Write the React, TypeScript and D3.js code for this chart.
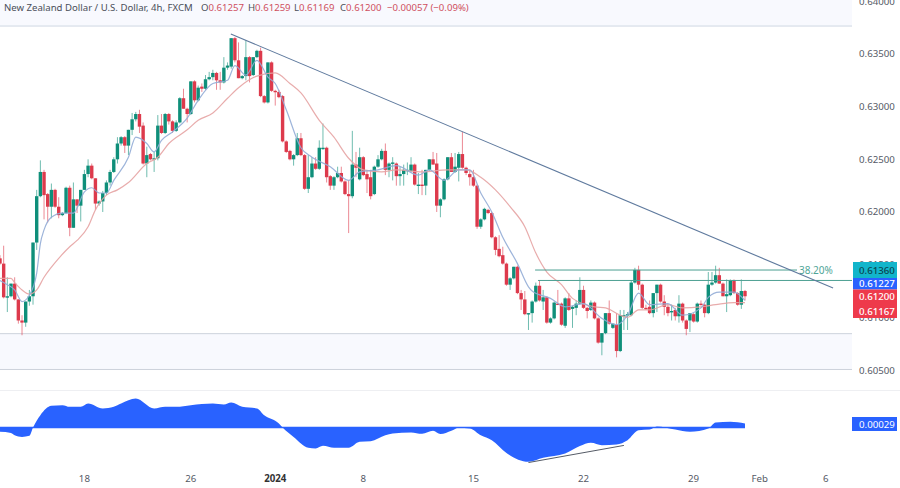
import React from "react";
import * as d3 from "d3";

// Candle values, in units of 0.0001
const opens = [
6156,6151,6119,6120,6132,6117,6097,6095,6115,6120,
6171,6215,6238,6217,6205,6221,6205,6197,6199,6223,
6185,6212,6206,6221,6236,6244,6232,6208,6210,6218,
6228,6238,6250,6265,6271,6263,6278,6288,6293,6282,
6246,6255,6250,6251,6282,6275,6293,6286,6277,6285,
6308,6298,6293,6324,6306,6319,6317,6326,6328,6332,
6325,6323,6337,6338,6365,6344,6327,6329,6347,6330,
6347,6353,6310,6304,6342,6315,6314,6310,6267,6258,
6250,6254,6270,6254,6222,6233,6246,6241,6260,6261,
6234,6225,6233,6237,6229,6217,6215,6245,6231,6252,
6236,6233,6217,6243,6250,6258,6240,6246,6246,6234,
6236,6239,6239,6245,6225,6226,6225,6240,6250,6246,
6206,6212,6231,6252,6238,6242,6255,6242,6236,6233,
6225,6186,6193,6202,6199,6176,6165,6159,6151,6131,
6137,6148,6123,6117,6103,6104,6115,6130,6115,6119,
6095,6099,6113,6113,6092,6118,6108,6109,6113,6126,
6109,6107,6114,6099,6076,6085,6104,6090,6093,6068,
6101,6102,6102,6133,6145,6131,6109,6110,6104,6123,
6131,6115,6110,6105,6107,6101,6113,6097,6097,6103,
6096,6113,6112,6104,6131,6133,6140,6132,6120,6121,
6135,6123,6112,6125];
const highs = [
6159,6168,6138,6132,6138,6117,6102,6115,6126,6171,
6221,6249,6240,6218,6227,6222,6214,6200,6224,6225,
6228,6212,6221,6240,6250,6246,6232,6211,6220,6230,
6240,6252,6271,6272,6272,6278,6294,6295,6297,6285,
6262,6256,6257,6292,6293,6294,6294,6287,6287,6309,
6317,6299,6324,6325,6320,6322,6330,6333,6335,6333,
6333,6347,6342,6365,6366,6361,6330,6363,6348,6347,
6354,6356,6311,6342,6343,6316,6316,6311,6268,6259,
6255,6275,6275,6255,6254,6252,6252,6268,6284,6262,
6235,6234,6243,6243,6230,6230,6277,6257,6261,6253,
6240,6240,6244,6254,6260,6265,6247,6252,6247,6243,
6245,6247,6252,6246,6237,6240,6240,6250,6257,6256,
6213,6232,6252,6256,6256,6257,6276,6243,6240,6240,
6226,6194,6204,6203,6200,6177,6178,6167,6152,6138,
6148,6149,6126,6125,6104,6116,6133,6135,6126,6120,
6100,6115,6126,6114,6119,6123,6111,6116,6138,6130,
6110,6116,6115,6100,6085,6104,6116,6094,6104,6107,
6107,6105,6135,6147,6149,6132,6112,6116,6123,6131,
6132,6121,6112,6112,6109,6121,6114,6098,6104,6104,
6114,6116,6113,6143,6143,6149,6147,6133,6136,6136,
6136,6124,6136,6126];
const lows = [
6150,6118,6105,6119,6116,6094,6083,6091,6111,6112,
6164,6214,6193,6190,6194,6204,6194,6196,6198,6177,
6185,6199,6191,6221,6233,6231,6202,6206,6200,6216,
6225,6237,6246,6263,6256,6254,6273,6286,6275,6245,
6233,6249,6238,6249,6274,6274,6283,6275,6276,6284,
6298,6285,6292,6304,6305,6314,6316,6325,6325,6316,
6316,6322,6335,6336,6342,6327,6326,6325,6323,6329,
6346,6309,6303,6303,6314,6301,6308,6266,6256,6249,
6244,6253,6253,6221,6218,6232,6240,6240,6259,6228,
6221,6221,6232,6228,6216,6180,6213,6233,6230,6234,
6218,6212,6216,6242,6249,6235,6233,6230,6225,6225,
6225,6235,6238,6225,6217,6216,6216,6239,6245,6200,
6195,6211,6230,6238,6237,6229,6241,6235,6225,6224,
6184,6184,6192,6198,6175,6159,6157,6150,6130,6126,
6136,6122,6107,6102,6088,6095,6114,6115,6107,6094,
6094,6098,6112,6092,6090,6106,6090,6102,6112,6108,
6099,6106,6098,6075,6064,6084,6093,6089,6062,6067,
6088,6088,6101,6132,6126,6108,6107,6103,6100,6105,
6114,6102,6101,6097,6097,6095,6095,6083,6086,6095,
6095,6111,6100,6103,6130,6132,6132,6120,6105,6120,
6122,6111,6108,6116];
const closes = [
6151,6119,6120,6132,6117,6097,6095,6115,6120,6171,
6215,6238,6216,6205,6221,6205,6197,6199,6223,6185,
6212,6206,6221,6236,6244,6232,6208,6210,6218,6228,
6238,6250,6265,6271,6263,6278,6288,6293,6281,6246,
6254,6250,6251,6282,6275,6293,6286,6277,6285,6308,
6298,6293,6324,6306,6318,6317,6326,6328,6332,6325,
6323,6337,6339,6365,6344,6327,6329,6347,6329,6347,
6353,6310,6304,6342,6315,6314,6309,6267,6257,6250,
6254,6270,6254,6222,6233,6246,6241,6261,6261,6233,
6225,6233,6237,6229,6217,6215,6245,6242,6252,6235,
6231,6215,6243,6250,6258,6240,6246,6247,6234,6236,
6240,6240,6245,6226,6226,6225,6240,6250,6245,6206,
6212,6231,6252,6238,6243,6255,6242,6237,6233,6225,
6186,6193,6203,6199,6176,6164,6158,6151,6131,6137,
6148,6123,6117,6103,6104,6115,6130,6116,6119,6095,
6099,6114,6112,6093,6118,6107,6110,6113,6126,6109,
6106,6114,6099,6076,6085,6104,6094,6094,6068,6102,
6102,6103,6133,6145,6131,6109,6108,6104,6123,6131,
6115,6110,6104,6106,6101,6113,6097,6089,6104,6096,
6113,6112,6104,6131,6133,6140,6132,6120,6122,6135,
6123,6112,6125,6120];

// Moving averages: bar index, value
const slowBars = [0,3,4,6,8,10,12,16,19,21,24,26,29,32,35,40,43,46,51,54,58,62,65,70,75,79,82,87,91,95,99,104,108,115,122,127,131,135,139,143,146,149,153,156,162,165,169,171,174,177,182,186,191,195,200,203];
const slowValues = [6137,6137,6133,6126,6122,6126,6138,6156,6167,6173,6186,6202,6216,6221,6228,6246,6252,6265,6278,6287,6294,6308,6318,6329,6332,6322,6313,6287,6271,6251,6240,6238,6240,6238,6240,6240,6233,6221,6205,6186,6161,6143,6131,6118,6110,6109,6102,6100,6107,6107,6112,6109,6110,6112,6114,6114];
const fastBars = [0,2,4,6,8,10,11,12,14,17,20,23,25,27,29,31,35,37,40,42,44,47,51,54,58,62,64,67,70,73,75,78,82,85,90,95,98,103,108,114,117,121,125,128,131,134,137,141,144,145,150,154,159,164,168,171,174,177,182,186,191,193,196,200,203];
const fastValues = [6135,6131,6126,6115,6121,6142,6170,6183,6195,6199,6199,6219,6223,6218,6218,6230,6252,6271,6265,6257,6268,6276,6289,6306,6322,6325,6339,6330,6344,6328,6322,6297,6261,6252,6243,6230,6238,6240,6244,6235,6240,6230,6240,6240,6218,6200,6176,6151,6129,6125,6118,6110,6113,6099,6093,6102,6123,6112,6113,6102,6109,6119,6124,6124,6116];

// Lower oscillator: bar index, value in units of 0.00001
const oscBars = [0,3,4,6,8,9,11,14,17,19,22,24,28,31,33,37,42,45,48,52,58,61,63,66,70,72,76,77,80,84,86,88,91,95,98,101,105,107,112,115,118,120,123,125,128,131,134,138,144,148,154,158,161,164,168,171,174,177,179,184,188,193,195,199,203];
const oscValues = [-31,-39,-56,-68,-60,0,89,157,162,150,150,174,138,150,174,210,138,150,150,162,174,167,181,150,138,89,29,0,-68,-147,-152,-133,-147,-147,-104,-99,-56,-43,-36,-46,-24,-48,-24,-2,-7,-56,-92,-184,-249,-220,-189,-135,-111,-128,-123,-92,-20,-15,7,-15,-31,-7,36,41,29];

// Axis content
const priceTicks = [0.64, 0.635, 0.63, 0.625, 0.62, 0.615, 0.61, 0.605];
const dateTicks: [number, string, boolean][] = [
  [23, "18", false], [52, "26", false], [75, "2024", true], [99, "8", false],
  [129, "15", false], [159, "22", false], [189, "29", false], [207, "Feb", false], [225, "6", false],
];
const tagLabels = ["0.61360", "0.61227", "0.61200", "0.61167"];
const tagFills = ["#12b5cb", "#2962ff", "#ee3a4b", "#ee3a4b"];
const tagInks = ["#0b4550", "#ffffff", "#ffffff", "#ffffff"];
const tagTops = [262, 278, 289.5, 304];
const tagHeights = [16, 11.5, 14.5, 14];
const legendTitle = "New Zealand Dollar / U.S. Dollar, 4h, FXCM";
const legendKeys = ["O", "H", "L", "C"];
const legendVals = ["0.61257", "0.61259", "0.61169", "0.61200"];
const legendChange = "−0.00057 (−0.09%)";

// Drawn levels and trend lines: [bar, price]
const mainTrend: [number, number][] = [[62.9, 0.6369], [227, 0.61278]];
const oscTrend: [number, number][] = [[144, -254], [170, -130]];
const fibLevel = 0.61449;
const fibStartBar = 145.8;
const resistLevel = 0.6135;
const resistStartBar = 146.6;
const bandUpperTop = 0.6405;
const bandUpperBottom = 0.63765;
const bandLowerTop = 0.60845;
const bandLowerBottom = 0.60505;

const X_RIGHT = 852;
const FIB_END = 797;
const x = d3.scaleLinear().domain([0, 203]).range([0, 745]);
const y = d3.scaleLinear().domain([0.605, 0.64]).range([370, 1.3]);
const yo = d3.scaleLinear().domain([0, 290]).range([427.5, 387.5]);

const UP = "#0f8f7a";
const DOWN = "#dd3a4c";
const FONT = "'Noto Sans', sans-serif";
const legendXs = [201, 248, 294, 340];

export default function App() {
  const slowLine = d3.line<number>()
    .x((_, i) => x(slowBars[i]))
    .y((v) => y(v / 10000))
    .curve(d3.curveMonotoneX)(slowValues) as string;
  const fastLine = d3.line<number>()
    .x((_, i) => x(fastBars[i]))
    .y((v) => y(v / 10000))
    .curve(d3.curveMonotoneX)(fastValues) as string;
  const oscArea = d3.area<number>()
    .x((_, i) => x(oscBars[i]))
    .y0(yo(0))
    .y1((v) => yo(v))
    .curve(d3.curveMonotoneX)(oscValues) as string;

  return (
    <svg width={900} height={488} viewBox="0 0 900 488"
      style={{ position: "fixed", left: 0, top: 0, display: "block", background: "#fff" }}
      fontFamily={FONT}>
      {/* bands */}
      <rect x={0} y={y(bandUpperTop)} width={X_RIGHT} height={y(bandUpperBottom) - y(bandUpperTop)} fill="#f8f9fe" />
      <line x1={0} x2={X_RIGHT} y1={y(bandUpperBottom)} y2={y(bandUpperBottom)} stroke="#cfd8e3" />
      <rect x={0} y={y(bandLowerTop)} width={X_RIGHT} height={y(bandLowerBottom) - y(bandLowerTop)} fill="#f8f9fe" />
      <line x1={0} x2={X_RIGHT} y1={y(bandLowerTop)} y2={y(bandLowerTop)} stroke="#cdd2dc" />
      <line x1={0} x2={X_RIGHT} y1={y(bandLowerBottom)} y2={y(bandLowerBottom)} stroke="#cdd2dc" />
      <line x1={0} x2={900} y1={390.5} y2={390.5} stroke="#eeeff2" />

      {/* candles */}
      {opens.map((o, i) => {
        const c = closes[i];
        const col = c >= o ? UP : DOWN;
        const top = y(Math.max(o, c) / 10000);
        const bot = y(Math.min(o, c) / 10000);
        return (
          <g key={i}>
            <line x1={x(i)} x2={x(i)} y1={y(highs[i] / 10000)} y2={y(lows[i] / 10000)} stroke={col} strokeOpacity={0.6} />
            <rect x={x(i) - 1.7} y={top} width={3.4} height={Math.max(bot - top, 1.4)} fill={col} />
          </g>
        );
      })}

      {/* moving averages */}
      <path d={slowLine} fill="none" stroke="#e6a3a3" strokeWidth={1.2} strokeOpacity={0.9} />
      <path d={fastLine} fill="none" stroke="#92acd6" strokeWidth={1.2} strokeOpacity={0.9} />

      {/* levels and trend line */}
      <line x1={x(fibStartBar)} x2={FIB_END} y1={y(fibLevel)} y2={y(fibLevel)} stroke="#4c9f92" strokeWidth={1} />
      <line x1={x(resistStartBar)} x2={X_RIGHT} y1={y(resistLevel)} y2={y(resistLevel)} stroke="#4c9f92" strokeWidth={1} />
      <text x={799} y={y(fibLevel) + 3.5} fontSize={10} fill="#4fa597">38.20%</text>
      <line x1={x(mainTrend[0][0])} y1={y(mainTrend[0][1])} x2={x(mainTrend[1][0])} y2={y(mainTrend[1][1])} stroke="#5f7a9e" strokeWidth={1.1} />

      {/* oscillator */}
      <path d={oscArea} fill="#2962ff" />
      <line x1={0} x2={x(203)} y1={yo(0)} y2={yo(0)} stroke="#2962ff" strokeWidth={1.5} />
      <line x1={x(oscTrend[0][0])} y1={yo(oscTrend[0][1])} x2={x(oscTrend[1][0])} y2={yo(oscTrend[1][1])} stroke="#555b66" strokeWidth={1} />

      {/* legend */}
      <text x={4} y={11} fontSize={9.6} fill="#4a4e59">{legendTitle}</text>
      {legendKeys.map((k, i) => (
        <text key={k} x={legendXs[i]} y={11} fontSize={9.6} fill="#4a4e59">
          {k}<tspan fill="#cf5060">{legendVals[i]}</tspan>
        </text>
      ))}
      <text x={387} y={11} fontSize={9.6} fill="#cf5060">{legendChange}</text>

      {/* price axis */}
      {priceTicks.map((p) => (
        <text key={p} x={859} y={y(p) + 3.5} fontSize={9.7} fill="#555a66">{p.toFixed(5)}</text>
      ))}
      {tagLabels.map((label, i) => (
        <g key={label}>
          <rect x={853} y={tagTops[i]} width={44} height={tagHeights[i]} fill={tagFills[i]} />
          <text x={859} y={tagTops[i] + tagHeights[i] / 2 + 3.5} fontSize={9.7} fontWeight={500} fill={tagInks[i]}>{label}</text>
        </g>
      ))}
      <rect x={852} y={417} width={45} height={14} fill="#2962ff" />
      <text x={859} y={427.5} fontSize={9.7} fill="#fff">0.00029</text>

      {/* date axis */}
      {dateTicks.map(([b, label, bold]) => (
        <text key={label} x={x(b)} y={482} fontSize={9.7} textAnchor="middle" fontWeight={bold ? 700 : 400}
          fill={bold ? "#333" : "#555a66"}>{label}</text>
      ))}
    </svg>
  );
}
